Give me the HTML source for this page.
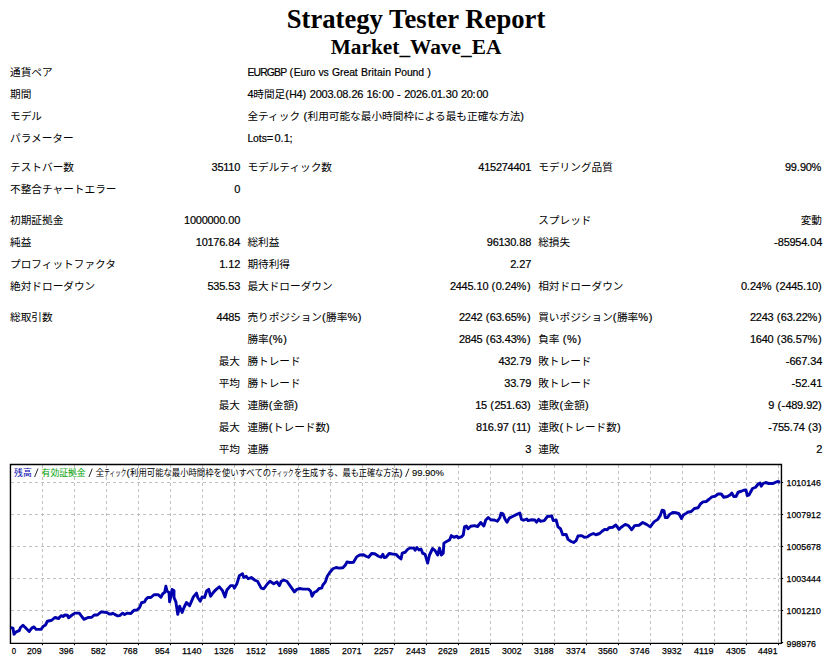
<!DOCTYPE html>
<html><head><meta charset="utf-8"><title>Strategy Tester: Market_Wave_EA</title>
<style>
html,body{margin:0;padding:0;background:#fff}
body{width:832px;height:664px;position:relative;overflow:hidden;font-family:"Liberation Sans","Noto Sans CJK JP",sans-serif;color:#000}
.h1{position:absolute;left:0;width:832px;text-align:center;font-family:"Liberation Serif",serif;font-weight:bold;white-space:nowrap}
.c{position:absolute;white-space:nowrap;font-size:11.0px;line-height:14px;height:14px;letter-spacing:-0.27px;-webkit-text-stroke:0.2px #000}
.c i{font-style:normal}
.j{font-family:"Liberation Sans","Noto Sans CJK JP",sans-serif;font-size:10.67px;letter-spacing:0;-webkit-text-stroke:0}
#chart{position:absolute;left:0;top:455px}
</style></head><body>
<div class="h1" style="top:4px;font-size:26.67px;line-height:30px">Strategy Tester Report</div>
<div class="h1" style="top:35px;font-size:21.33px;line-height:24px">Market_Wave_EA</div>

<div class="c" style="left:10px;top:65px"><span class="j">通貨ペア</span></div>
<div class="c" style="left:247.4px;top:65px"><i style="font-size:10.4px;letter-spacing:-0.84px">EURGBP</i><i style="letter-spacing:0.28px"> </i><i style="letter-spacing:0.42px">(</i><i style="font-size:10.4px;letter-spacing:-0.1px">Euro</i><i style="letter-spacing:0.28px"> </i><i style="font-size:10.4px;letter-spacing:-0.16px">vs</i><i style="letter-spacing:0.28px"> </i><i style="font-size:10.4px;letter-spacing:-0.06px">Great</i><i style="letter-spacing:0.28px"> </i><i style="font-size:10.4px;letter-spacing:0.09px">Britain</i><i style="letter-spacing:0.28px"> </i><i style="font-size:10.4px;letter-spacing:-0.12px">Pound</i><i style="letter-spacing:0.28px"> </i><i style="letter-spacing:0.42px">)</i></div>
<div class="c" style="left:10px;top:87px"><span class="j">期間</span></div>
<div class="c" style="left:247.4px;top:87px">4<span class="j">時間足</span><i style="letter-spacing:0.42px">(</i><i style="font-size:10.4px;letter-spacing:-0.3px">H</i>4<i style="letter-spacing:0.42px">)</i><i style="letter-spacing:0.28px"> </i>2003<i style="letter-spacing:0.18px">.</i>08<i style="letter-spacing:0.18px">.</i>26<i style="letter-spacing:0.28px"> </i>16<i style="letter-spacing:0.72px">:</i>00<i style="letter-spacing:0.28px"> </i><i style="letter-spacing:0.21px">-</i><i style="letter-spacing:0.28px"> </i>2026<i style="letter-spacing:0.18px">.</i>01<i style="letter-spacing:0.18px">.</i>30<i style="letter-spacing:0.28px"> </i>20<i style="letter-spacing:0.72px">:</i>00</div>
<div class="c" style="left:10px;top:109px"><span class="j">モデル</span></div>
<div class="c" style="left:247.4px;top:109px"><span class="j">全ティック</span><i style="letter-spacing:0.28px"> </i><i style="letter-spacing:0.42px">(</i><span class="j">利用可能な最小時間枠による最も正確な方法</span><i style="letter-spacing:0.42px">)</i></div>
<div class="c" style="left:10px;top:131px"><span class="j">パラメーター</span></div>
<div class="c" style="left:247.4px;top:131px"><i style="font-size:10.4px;letter-spacing:-0.05px">Lots</i><i style="letter-spacing:1.34px">=</i>0<i style="letter-spacing:0.18px">.</i>1<i style="letter-spacing:0.72px">;</i></div>
<div class="c" style="left:10px;top:160px"><span class="j">テストバー数</span></div>
<div class="c" style="right:592px;top:160px">35110</div>
<div class="c" style="left:247.4px;top:160px"><span class="j">モデルティック数</span></div>
<div class="c" style="right:301px;top:160px">415274401</div>
<div class="c" style="left:538.2px;top:160px"><span class="j">モデリング品質</span></div>
<div class="c" style="right:10px;top:160px">99<i style="letter-spacing:0.18px">.</i>90<i style="letter-spacing:0.64px">%</i></div>
<div class="c" style="left:10px;top:182px"><span class="j">不整合チャートエラー</span></div>
<div class="c" style="right:592px;top:182px">0</div>
<div class="c" style="left:10px;top:213px"><span class="j">初期証拠金</span></div>
<div class="c" style="right:592px;top:213px">1000000<i style="letter-spacing:0.18px">.</i>00</div>
<div class="c" style="left:538.2px;top:213px"><span class="j">スプレッド</span></div>
<div class="c" style="right:10px;top:213px"><span class="j">変動</span></div>
<div class="c" style="left:10px;top:235px"><span class="j">純益</span></div>
<div class="c" style="right:592px;top:235px">10176<i style="letter-spacing:0.18px">.</i>84</div>
<div class="c" style="left:247.4px;top:235px"><span class="j">総利益</span></div>
<div class="c" style="right:301px;top:235px">96130<i style="letter-spacing:0.18px">.</i>88</div>
<div class="c" style="left:538.2px;top:235px"><span class="j">総損失</span></div>
<div class="c" style="right:10px;top:235px"><i style="letter-spacing:0.21px">-</i>85954<i style="letter-spacing:0.18px">.</i>04</div>
<div class="c" style="left:10px;top:257px"><span class="j">プロフィットファクタ</span></div>
<div class="c" style="right:592px;top:257px">1<i style="letter-spacing:0.18px">.</i>12</div>
<div class="c" style="left:247.4px;top:257px"><span class="j">期待利得</span></div>
<div class="c" style="right:301px;top:257px">2<i style="letter-spacing:0.18px">.</i>27</div>
<div class="c" style="left:10px;top:279px"><span class="j">絶対ドローダウン</span></div>
<div class="c" style="right:592px;top:279px">535<i style="letter-spacing:0.18px">.</i>53</div>
<div class="c" style="left:247.4px;top:279px"><span class="j">最大ドローダウン</span></div>
<div class="c" style="right:301px;top:279px">2445<i style="letter-spacing:0.18px">.</i>10<i style="letter-spacing:0.28px"> </i><i style="letter-spacing:0.42px">(</i>0<i style="letter-spacing:0.18px">.</i>24<i style="letter-spacing:0.64px">%</i><i style="letter-spacing:0.42px">)</i></div>
<div class="c" style="left:538.2px;top:279px"><span class="j">相対ドローダウン</span></div>
<div class="c" style="right:10px;top:279px">0<i style="letter-spacing:0.18px">.</i>24<i style="letter-spacing:0.64px">%</i><i style="letter-spacing:0.28px"> </i><i style="letter-spacing:0.42px">(</i>2445<i style="letter-spacing:0.18px">.</i>10<i style="letter-spacing:0.42px">)</i></div>
<div class="c" style="left:10px;top:310px"><span class="j">総取引数</span></div>
<div class="c" style="right:592px;top:310px">4485</div>
<div class="c" style="left:247.4px;top:310px"><span class="j">売りポジション</span><i style="letter-spacing:0.42px">(</i><span class="j">勝率</span><i style="letter-spacing:0.64px">%</i><i style="letter-spacing:0.42px">)</i></div>
<div class="c" style="right:301px;top:310px">2242<i style="letter-spacing:0.28px"> </i><i style="letter-spacing:0.42px">(</i>63<i style="letter-spacing:0.18px">.</i>65<i style="letter-spacing:0.64px">%</i><i style="letter-spacing:0.42px">)</i></div>
<div class="c" style="left:538.2px;top:310px"><span class="j">買いポジション</span><i style="letter-spacing:0.42px">(</i><span class="j">勝率</span><i style="letter-spacing:0.64px">%</i><i style="letter-spacing:0.42px">)</i></div>
<div class="c" style="right:10px;top:310px">2243<i style="letter-spacing:0.28px"> </i><i style="letter-spacing:0.42px">(</i>63<i style="letter-spacing:0.18px">.</i>22<i style="letter-spacing:0.64px">%</i><i style="letter-spacing:0.42px">)</i></div>
<div class="c" style="left:247.4px;top:332px"><span class="j">勝率</span><i style="letter-spacing:0.42px">(</i><i style="letter-spacing:0.64px">%</i><i style="letter-spacing:0.42px">)</i></div>
<div class="c" style="right:301px;top:332px">2845<i style="letter-spacing:0.28px"> </i><i style="letter-spacing:0.42px">(</i>63<i style="letter-spacing:0.18px">.</i>43<i style="letter-spacing:0.64px">%</i><i style="letter-spacing:0.42px">)</i></div>
<div class="c" style="left:538.2px;top:332px"><span class="j">負率</span><i style="letter-spacing:0.28px"> </i><i style="letter-spacing:0.42px">(</i><i style="letter-spacing:0.64px">%</i><i style="letter-spacing:0.42px">)</i></div>
<div class="c" style="right:10px;top:332px">1640<i style="letter-spacing:0.28px"> </i><i style="letter-spacing:0.42px">(</i>36<i style="letter-spacing:0.18px">.</i>57<i style="letter-spacing:0.64px">%</i><i style="letter-spacing:0.42px">)</i></div>
<div class="c" style="right:592px;top:354px"><span class="j">最大</span></div>
<div class="c" style="left:247.4px;top:354px"><span class="j">勝トレード</span></div>
<div class="c" style="right:301px;top:354px">432<i style="letter-spacing:0.18px">.</i>79</div>
<div class="c" style="left:538.2px;top:354px"><span class="j">敗トレード</span></div>
<div class="c" style="right:10px;top:354px"><i style="letter-spacing:0.21px">-</i>667<i style="letter-spacing:0.18px">.</i>34</div>
<div class="c" style="right:592px;top:376px"><span class="j">平均</span></div>
<div class="c" style="left:247.4px;top:376px"><span class="j">勝トレード</span></div>
<div class="c" style="right:301px;top:376px">33<i style="letter-spacing:0.18px">.</i>79</div>
<div class="c" style="left:538.2px;top:376px"><span class="j">敗トレード</span></div>
<div class="c" style="right:10px;top:376px"><i style="letter-spacing:0.21px">-</i>52<i style="letter-spacing:0.18px">.</i>41</div>
<div class="c" style="right:592px;top:398px"><span class="j">最大</span></div>
<div class="c" style="left:247.4px;top:398px"><span class="j">連勝</span><i style="letter-spacing:0.42px">(</i><span class="j">金額</span><i style="letter-spacing:0.42px">)</i></div>
<div class="c" style="right:301px;top:398px">15<i style="letter-spacing:0.28px"> </i><i style="letter-spacing:0.42px">(</i>251<i style="letter-spacing:0.18px">.</i>63<i style="letter-spacing:0.42px">)</i></div>
<div class="c" style="left:538.2px;top:398px"><span class="j">連敗</span><i style="letter-spacing:0.42px">(</i><span class="j">金額</span><i style="letter-spacing:0.42px">)</i></div>
<div class="c" style="right:10px;top:398px">9<i style="letter-spacing:0.28px"> </i><i style="letter-spacing:0.42px">(</i><i style="letter-spacing:0.21px">-</i>489<i style="letter-spacing:0.18px">.</i>92<i style="letter-spacing:0.42px">)</i></div>
<div class="c" style="right:592px;top:420px"><span class="j">最大</span></div>
<div class="c" style="left:247.4px;top:420px"><span class="j">連勝</span><i style="letter-spacing:0.42px">(</i><span class="j">トレード数</span><i style="letter-spacing:0.42px">)</i></div>
<div class="c" style="right:301px;top:420px">816<i style="letter-spacing:0.18px">.</i>97<i style="letter-spacing:0.28px"> </i><i style="letter-spacing:0.42px">(</i>11<i style="letter-spacing:0.42px">)</i></div>
<div class="c" style="left:538.2px;top:420px"><span class="j">連敗</span><i style="letter-spacing:0.42px">(</i><span class="j">トレード数</span><i style="letter-spacing:0.42px">)</i></div>
<div class="c" style="right:10px;top:420px"><i style="letter-spacing:0.21px">-</i>755<i style="letter-spacing:0.18px">.</i>74<i style="letter-spacing:0.28px"> </i><i style="letter-spacing:0.42px">(</i>3<i style="letter-spacing:0.42px">)</i></div>
<div class="c" style="right:592px;top:442px"><span class="j">平均</span></div>
<div class="c" style="left:247.4px;top:442px"><span class="j">連勝</span></div>
<div class="c" style="right:301px;top:442px">3</div>
<div class="c" style="left:538.2px;top:442px"><span class="j">連敗</span></div>
<div class="c" style="right:10px;top:442px">2</div>
<svg id="chart" width="832" height="209" viewBox="0 455 832 209" font-family="Liberation Sans, sans-serif">
<path d="M42.5 465.45V643.4M74.5 465.45V643.4M106.5 465.45V643.4M138.5 465.45V643.4M170.5 465.45V643.4M202.5 465.45V643.4M234.5 465.45V643.4M266.5 465.45V643.4M298.5 465.45V643.4M330.5 465.45V643.4M362.5 465.45V643.4M394.5 465.45V643.4M426.5 465.45V643.4M458.5 465.45V643.4M490.5 465.45V643.4M522.5 465.45V643.4M554.5 465.45V643.4M586.5 465.45V643.4M618.5 465.45V643.4M650.5 465.45V643.4M682.5 465.45V643.4M714.5 465.45V643.4M746.5 465.45V643.4M778.5 465.45V643.4M11.45 482.5H781.45M11.45 514.5H781.45M11.45 546.5H781.45M11.45 578.5H781.45M11.45 610.5H781.45" stroke="#c0c0c0" stroke-width="1" stroke-dasharray="3 3" fill="none" shape-rendering="crispEdges"/>
<path d="M42.5 643.4v1.8M74.5 643.4v1.8M106.5 643.4v1.8M138.5 643.4v1.8M170.5 643.4v1.8M202.5 643.4v1.8M234.5 643.4v1.8M266.5 643.4v1.8M298.5 643.4v1.8M330.5 643.4v1.8M362.5 643.4v1.8M394.5 643.4v1.8M426.5 643.4v1.8M458.5 643.4v1.8M490.5 643.4v1.8M522.5 643.4v1.8M554.5 643.4v1.8M586.5 643.4v1.8M618.5 643.4v1.8M650.5 643.4v1.8M682.5 643.4v1.8M714.5 643.4v1.8M746.5 643.4v1.8M778.5 643.4v1.8M781.45 482.5h1.7M781.45 514.5h1.7M781.45 546.5h1.7M781.45 578.5h1.7M781.45 610.5h1.7M781.45 642.5h1.7" stroke="#000" stroke-width="1" fill="none"/>
<path d="M10.45 643.4V464.45H781.45V643.4Z" fill="none" stroke="#000" stroke-width="1.4"/>
<path d="M10.75 627.75L13 628.12L14 634.38L16.12 631.88L19.25 630.62L20.5 627.5L23 625.25L25.5 627.75L29.25 631.5L31.75 628.12L34 626.88L36.12 629.38L41.12 629.38L43 626.5L45.5 625L47.38 621.25L51.75 620.25L54.88 617.5L58.62 618.5L61.12 615.62L63 616.5L64.88 615L67.38 615.25L68.62 617.75L71.75 615.25L74.88 613.12L79.25 613.12L81.75 616.5L84 619.38L88 617.5L91.75 617.25L94.25 615L97.38 615L101.12 611.88L106.75 612.5L109.25 614L111.75 614L112.75 613.12L114.62 614.38L117.75 615.88L119.62 615.62L122.75 613.12L124.62 614.62L127.12 613.12L130.88 613.5L134 610.25L137.12 610L139.62 607.5L141.5 602.75L144.62 601.88L145.88 599.38L147.75 597.5L150.88 597.5L154 594.75L158.38 594.75L160.88 597.25L162.75 593.75L164.62 592.5L165.88 586.25L167.12 591.25L169 592.5L169.62 601.88L170.88 596.25L172.12 589.38L174 590.62L174 597.5L175.88 601.88L177.75 614.38L179.62 606.25L182.12 612.5L184 607.5L186.5 602.5L189.62 605.62L193.38 596.88L196.5 593.12L197.75 597.5L200.25 601.25L202.12 596.88L204.62 597.5L206.5 591.25L206.88 590.62L208.75 589.38L210.62 596.25L213.75 591.88L216.25 589.38L219.38 586.88L222.5 590.62L225 596.88L226.88 590L230.62 585.62L233.12 585.62L234.38 588.12L236.88 583.75L239.38 575.62L242.5 573.75L243.75 577.5L246.25 576.25L248.12 578.75L251.25 577.5L255 580.25L257.5 581.25L261.25 588.12L263.75 588.75L267.5 583.75L270 581.25L273.75 583.75L276.88 581.88L279.38 585.62L281.25 581.25L283.75 580L286.88 581.25L290 585.62L294.38 591.88L296.88 589.38L300 588.5L301 588.75L303.5 589.12L308.5 589.12L310.75 591.25L312 596.25L314.12 592.5L316.62 591.25L319.12 588.5L321.62 588.12L322.88 585L325.38 581.88L327.25 576.25L329.75 572.5L332.88 568.75L336 567.5L339.12 568.12L342.88 567.75L345.38 565L347 561.88L349.75 562.5L353.5 562.25L356.62 556.88L359.75 555L363.5 554.75L366 556.25L368.5 557.25L371.62 553.5L374.75 553.75L378.5 556.25L381 557.25L382.88 554.38L384.12 557.5L386 557.25L389.12 553.5L392.25 554L396 554.38L398.5 556.88L401 559L402.25 553.12L405.12 552.25L407.62 549.38L410.12 547.88L413.88 548.12L415.12 550.25L417 547.5L418.88 550L421 549L422.62 553.12L425.12 554.38L427.62 563.12L429.5 555L432.62 548.5L435.12 550.62L437.62 555L439.5 548.12L441.38 555L443.25 553.12L443.88 543.12L447 541.25L449.5 540L451.38 535.62L453.88 537.25L457 536.25L458.25 537.75L461.38 536.88L463.25 535L464.5 526.88L466.38 526L468 528.75L470.75 526.25L474.5 525.62L477.62 526.5L480.75 522.5L483.88 526L485.75 520L488.25 517.5L490.75 519.75L493.88 520L494.25 520L497.38 521.25L499.88 517.5L501.12 513.12L503 513.75L504.88 518.75L507 522.25L509.25 518.12L513 516.25L516.75 514.38L519.88 513.12L521.5 519.38L523.62 520.25L526.75 519L528 520.62L531.75 519.75L534.88 520L536.5 522.25L538.62 519.38L540.5 521.25L544.25 520.62L547.38 516.5L551.75 516L553.25 520.62L556.12 520L558 526.88L560.5 528.75L562.75 534.75L566.12 534.38L568 539.38L571.12 541.5L573.62 542.5L576.12 540.62L578 536L581.75 535.62L584.25 537.25L587.38 536.88L589.88 535L593.38 533.5L595.88 534.75L599.62 533.5L602.12 531.25L604.62 529.38L607.12 529.75L609 527.75L612.75 527.25L615.88 525L619 529.38L620.88 527.5L625.25 524.38L628.38 525.62L631.75 529.75L634.62 525.62L639 525.25L642.75 522.5L646.5 524.38L650.25 526.88L652.12 524.38L654 521.88L657.75 519.38L660.25 515.62L662.12 510.25L664 510.62L665.25 517.5L667.5 517.5L669.62 514.38L672.75 512.5L675.88 512.75L679 513.75L681.5 518.5L683.38 515L686.5 513.12L687.5 512.25L691.25 511.5L694.38 508.5L698.12 507.75L700.62 503.75L703.12 501.88L706.25 501.5L709.38 499L711.88 496.88L715 496.25L718.12 494L721.25 494L723.75 497.25L727.5 496.5L730 495L731.88 493.12L733.75 496.5L736 496.5L738.12 492.25L741.25 491.25L743.75 490.25L746 490L747.25 495.62L749 495L752.5 488.5L755.62 487.25L758.12 484L760 483.12L761.25 486.25L763.12 483.5L765.62 482.5L768.75 483.5L773.12 483.5L775.62 482.25L777.5 481.5L780 482.25" fill="none" stroke="#0000ac" stroke-width="2.9" stroke-linejoin="round" stroke-linecap="butt"/>
<g font-size="9.7" fill="#000" stroke="#000" stroke-width="0.25">
<text x="11.8" y="653.5" textLength="4.3" lengthAdjust="spacingAndGlyphs">0</text>
<text x="41.5" y="653.5" text-anchor="end" textLength="14.5" lengthAdjust="spacingAndGlyphs">209</text>
<text x="73.5" y="653.5" text-anchor="end" textLength="14.5" lengthAdjust="spacingAndGlyphs">396</text>
<text x="105.5" y="653.5" text-anchor="end" textLength="14.5" lengthAdjust="spacingAndGlyphs">582</text>
<text x="137.5" y="653.5" text-anchor="end" textLength="14.5" lengthAdjust="spacingAndGlyphs">768</text>
<text x="169.5" y="653.5" text-anchor="end" textLength="14.5" lengthAdjust="spacingAndGlyphs">954</text>
<text x="201.5" y="653.5" text-anchor="end" textLength="19.4" lengthAdjust="spacingAndGlyphs">1140</text>
<text x="233.5" y="653.5" text-anchor="end" textLength="19.4" lengthAdjust="spacingAndGlyphs">1326</text>
<text x="265.5" y="653.5" text-anchor="end" textLength="19.4" lengthAdjust="spacingAndGlyphs">1512</text>
<text x="297.5" y="653.5" text-anchor="end" textLength="19.4" lengthAdjust="spacingAndGlyphs">1699</text>
<text x="329.5" y="653.5" text-anchor="end" textLength="19.4" lengthAdjust="spacingAndGlyphs">1885</text>
<text x="361.5" y="653.5" text-anchor="end" textLength="19.4" lengthAdjust="spacingAndGlyphs">2071</text>
<text x="393.5" y="653.5" text-anchor="end" textLength="19.4" lengthAdjust="spacingAndGlyphs">2257</text>
<text x="425.5" y="653.5" text-anchor="end" textLength="19.4" lengthAdjust="spacingAndGlyphs">2443</text>
<text x="457.5" y="653.5" text-anchor="end" textLength="19.4" lengthAdjust="spacingAndGlyphs">2629</text>
<text x="489.5" y="653.5" text-anchor="end" textLength="19.4" lengthAdjust="spacingAndGlyphs">2815</text>
<text x="521.5" y="653.5" text-anchor="end" textLength="19.4" lengthAdjust="spacingAndGlyphs">3002</text>
<text x="553.5" y="653.5" text-anchor="end" textLength="19.4" lengthAdjust="spacingAndGlyphs">3188</text>
<text x="585.5" y="653.5" text-anchor="end" textLength="19.4" lengthAdjust="spacingAndGlyphs">3374</text>
<text x="617.5" y="653.5" text-anchor="end" textLength="19.4" lengthAdjust="spacingAndGlyphs">3560</text>
<text x="649.5" y="653.5" text-anchor="end" textLength="19.4" lengthAdjust="spacingAndGlyphs">3746</text>
<text x="681.5" y="653.5" text-anchor="end" textLength="19.4" lengthAdjust="spacingAndGlyphs">3932</text>
<text x="713.5" y="653.5" text-anchor="end" textLength="19.4" lengthAdjust="spacingAndGlyphs">4119</text>
<text x="745.5" y="653.5" text-anchor="end" textLength="19.4" lengthAdjust="spacingAndGlyphs">4305</text>
<text x="777.5" y="653.5" text-anchor="end" textLength="19.4" lengthAdjust="spacingAndGlyphs">4491</text>
<text x="786.6" y="486.1" textLength="34.2" lengthAdjust="spacingAndGlyphs">1010146</text>
<text x="786.6" y="518.1" textLength="34.2" lengthAdjust="spacingAndGlyphs">1007912</text>
<text x="786.6" y="550.1" textLength="34.2" lengthAdjust="spacingAndGlyphs">1005678</text>
<text x="786.6" y="582.1" textLength="34.2" lengthAdjust="spacingAndGlyphs">1003444</text>
<text x="786.6" y="614.1" textLength="34.2" lengthAdjust="spacingAndGlyphs">1001210</text>
<text x="786.6" y="646.5" textLength="29.3" lengthAdjust="spacingAndGlyphs">998976</text>
</g>
<g font-family="'Liberation Sans','Noto Sans CJK JP',sans-serif" font-size="8.8">
<text x="14.1" y="476.3" fill="#0000ac" textLength="17.6" lengthAdjust="spacingAndGlyphs">残高</text>
<text x="41.6" y="476.3" fill="#00a000" textLength="44" lengthAdjust="spacingAndGlyphs">有効証拠金</text>
<text x="95.5" y="476.3" fill="#000">全</text>
<text x="104.3" y="476.3" fill="#000" textLength="22" lengthAdjust="spacingAndGlyphs">ティック</text>
<text x="130.1" y="476.3" fill="#000" textLength="141" lengthAdjust="spacingAndGlyphs">利用可能な最小時間枠を使いすべての</text>
<text x="271.6" y="476.3" fill="#000" textLength="22" lengthAdjust="spacingAndGlyphs">ティック</text>
<text x="293.9" y="476.3" fill="#000" textLength="105.5" lengthAdjust="spacingAndGlyphs">を生成する、最も正確な方法</text>
</g>
<g font-size="9.8" fill="#000" stroke="#000" stroke-width="0.12">
<path d="M34.6 477l3.4-8.4M88.9 477l3.4-8.4M405.6 477l3.4-8.4" stroke="#111" stroke-width="0.9" fill="none"/>
<text x="126.6" y="476.3">(</text><text x="399.2" y="476.3">)</text>
<text x="412" y="476.1" textLength="32" lengthAdjust="spacingAndGlyphs">99.90%</text>
</g>
</svg>
</body></html>
